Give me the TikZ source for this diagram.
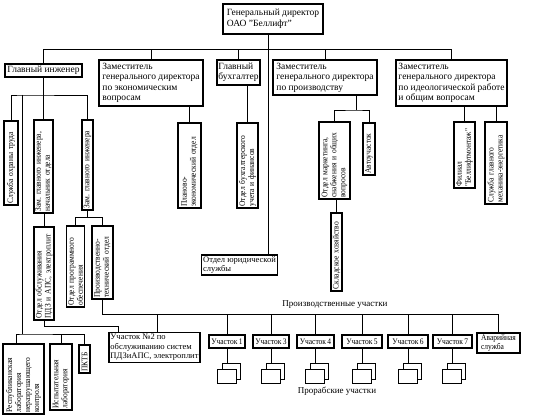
\documentclass[tikz,border=0pt]{standalone}
\usepackage{fontspec}
\setmainfont{Liberation Serif}
\newfontfamily\narrowserif[FakeStretch=0.88, WordSpace=0.7]{Liberation Serif}
\hyphenpenalty=10000
\exhyphenpenalty=10000
\frenchspacing

\begin{document}
\begin{tikzpicture}[x=1pt, y=-1pt,
		link/.style={draw, line width=0.9pt},
		hbox/.style={draw, line width=1.6pt, align=left, inner sep=1.5pt, font=\fontsize{9.5}{10.5}\selectfont},
		vbox/.style={draw, line width=1.4pt, rotate=90, align=left, inner sep=1.5pt, font=\narrowserif\fontsize{8.5}{9}\selectfont},
		ubox/.style={draw, line width=1.4pt, inner sep=1pt, minimum height=13pt, font=\narrowserif\fontsize{8.5}{9}\selectfont},
		pbox/.style={draw, line width=0.8pt, fill=white, inner sep=0pt},
		caption/.style={font=\fontsize{9}{10}\selectfont}
		]
		\useasboundingbox (0,0) rectangle (536,419);
		
		% ==========================================
		% TOP LEVEL
		% ==========================================
		
		\node[hbox, line width=2.4pt, minimum width=100pt, minimum height=30pt] (gen) at (273,19) {Генеральный директор\\ОАО "Беллифт"};
		
		\node[hbox, minimum width=77pt, minimum height=13pt] (gi) at (43.5,70.5) {Главный инженер};
		\node[hbox, minimum width=104pt, minimum height=46pt] (zecon) at (151,83) {Заместитель\\генерального директора\\по экономическим\\вопросам};
		\node[hbox, minimum width=43pt, minimum height=25pt] (buh) at (238.5,72.5) {Главный\\бухгалтер};
		\node[hbox, minimum width=104pt, minimum height=35pt] (zprod) at (325,77.5) {Заместитель\\генерального директора\\по производству};
		\node[hbox, minimum width=111pt, minimum height=46pt] (zideo) at (451.5,83) {Заместитель\\генерального директора\\по идеологической работе\\и общим вопросам};
		
		\node[hbox, line width=1.3pt, minimum width=75pt, minimum height=20pt, font=\fontsize{8.5}{9.5}\selectfont] (jur) at (239.5,265) {Отдел юридической\\службы};
		
		% Bus under the director
		\coordinate (topbus) at (0,49);
		\draw[link] ([xshift=-5pt]gen.south) -- ([xshift=-5pt]gen.south |- jur.north);
		\draw[link] (gi.north) |- (topbus -| zideo.north) -- (zideo.north);
		\draw[link] (zecon.north) -- (zecon.north |- topbus);
		\draw[link] (buh.north) -- (buh.north |- topbus);
		\draw[link] (zprod.north) -- (zprod.north |- topbus);
		
		% ==========================================
		% CHIEF ENGINEER
		% ==========================================
		
		\node[vbox, text width=81pt, minimum height=14pt] (ot) at (11,163) {Служба охраны труда};
		\node[vbox, text width=90pt, minimum height=19pt] (zgin) at (43.5,166.5) {Зам. главного инженера,\\начальник отдела};
		\node[vbox, text width=87pt, minimum height=11pt] (zgi) at (87.5,165) {Зам. главного инженера};
		\node[vbox, text width=90pt, minimum height=20pt] (oob) at (44,273.5) {Отдел обслуживания\\ПДЗ и АПС, электроплит};
		\node[vbox, text width=78pt, minimum height=17pt] (opo) at (75.5,266.5) {Отдел программного\\обеспечения};
		\node[vbox, text width=70pt, minimum height=21pt] (pto) at (102.5,262.5) {Производственно-\\технический отдел};
		
		\node[vbox, text width=67pt, minimum height=41pt] (rep) at (23.5,379) {Республиканская\\лаборатория\\неразрушающего\\контроля};
		\node[vbox, text width=63pt, minimum height=22pt] (isp) at (61,377) {Испытательная\\лаборатория};
		\node[vbox, text width=25pt, minimum height=11pt] (pktb) at (84.5,359) {ПКТБ};
		
		\coordinate (gibus) at (22,95);
		\draw[link] (gi.south) -- (gi.south |- gibus);
		\draw[link] (ot.east) |- (gibus) -| (zgi.east);
		\draw[link] (zgin.east) -- (zgin.east |- gibus);
		\draw[link] (oob.east) -- (oob.east |- zgin.west);
		
		% Laboratories
		\coordinate (labbus) at (22,334);
		\draw[link] (gibus) -- (labbus);
		\draw[link] ([xshift=-7pt]rep.east) |- (labbus) -| (pktb.east);
		\draw[link] (isp.east) -- (isp.east |- labbus);
		
		\draw[link] (zgi.west) -- ++(0,7) coordinate (zgib);
		\draw[link] (opo.east) |- (zgib) -| (pto.east);
		
		% ==========================================
		% OTHER DEPUTIES
		% ==========================================
		
		\node[vbox, text width=82pt, minimum height=23pt] (pe) at (189.5,165.5) {Планово-\\экономический отдел};
		\node[vbox, text width=82pt, minimum height=21pt] (obu) at (247.5,165.5) {Отдел бухгалтерского\\учета и финансов};
		\node[vbox, text width=74pt, minimum height=31pt] (om) at (334.5,160.5) {Отдел маркетинга,\\снабжения и общих\\вопросов};
		\node[vbox, text width=49pt, minimum height=12pt] (avt) at (369,149) {Автоучасток};
		\node[vbox, text width=75pt, minimum height=11pt] (skl) at (336.5,252) {Складское хозяйство};
		\node[vbox, text width=63pt, minimum height=21pt] (fil) at (464.5,155) {Филиал\\"Беллифтмонтаж"};
		\node[vbox, text width=79pt, minimum height=22pt] (sgm) at (496,163) {Служба главного\\механика-энергетика};
		
		\draw[link] (pe.east) -- (pe.east |- zecon.south);
		\draw[link] (obu.east) -- (obu.east |- buh.south);
		\coordinate (prodb) at (356,110);
		\draw[link] (prodb) -- (prodb |- zprod.south);
		\draw[link] (om.east) |- (prodb) -| (avt.east);
		\draw[link] (skl.east) -- (skl.east |- om.west);
		\draw[link] (fil.east) -- (fil.east |- zideo.south);
		\draw[link] (sgm.east) -- (sgm.east |- zideo.south);
		
		% ==========================================
		% PRODUCTION SITES
		% ==========================================
		
		\node[caption] (prodlbl) at (335,305) {Производственные участки};
		
		\node[hbox, line width=1.3pt, minimum width=89pt, minimum height=29pt, font=\fontsize{8.5}{9.5}\selectfont] (u2) at (154.5,347.5) {Участок №2 по\\обслуживанию систем\\ПДЗиАПС, электроплит};
		\node[ubox, minimum width=36pt] (u1) at (227,341.5) {Участок 1};
		\node[ubox, minimum width=36pt] (u3) at (271,341.5) {Участок 3};
		\node[ubox, minimum width=37pt] (u4) at (315.5,341.5) {Участок 4};
		\node[ubox, minimum width=40pt] (u5) at (362,341.5) {Участок 5};
		\node[ubox, minimum width=40pt] (u6) at (408,341.5) {Участок 6};
		\node[ubox, minimum width=39pt] (u7) at (452.5,341.5) {Участок 7};
		\node[ubox, minimum width=43pt, minimum height=20pt, align=left] (av) at (498.5,343) {Аварийная\\служба};
		
		\draw[link] (oob.west) -- ++(0,6) -| ([xshift=10pt]u2.north west);
		
		\coordinate (pbus) at (0,314);
		\draw[link] (pto.west) |- (pbus -| av.north) -- (av.north);
		\draw[link] ([xshift=2.5pt]u2.north) -- ([xshift=2.5pt]u2.north |- pbus);
		\draw[link] (u1.north) -- (u1.north |- pbus);
		\draw[link] (u3.north) -- (u3.north |- pbus);
		\draw[link] (u4.north) -- (u4.north |- pbus);
		\draw[link] (u5.north) -- (u5.north |- pbus);
		\draw[link] (u6.north) -- (u6.north |- pbus);
		\draw[link] (u7.north) -- (u7.north |- pbus);
		
		% Foreman sites (stacked boxes)
		\node[pbox, minimum width=18pt, minimum height=16pt] (p1b) at (231,371) {};
		\node[pbox, minimum width=19pt, minimum height=14pt] (p1a) at (226.5,376) {};
		\node[pbox, minimum width=18pt, minimum height=16pt] (p3b) at (275,371) {};
		\node[pbox, minimum width=19pt, minimum height=14pt] (p3a) at (270.5,376) {};
		\node[pbox, minimum width=18pt, minimum height=16pt] (p4b) at (319.5,371) {};
		\node[pbox, minimum width=19pt, minimum height=14pt] (p4a) at (315,376) {};
		\node[pbox, minimum width=18pt, minimum height=16pt] (p5b) at (366,371) {};
		\node[pbox, minimum width=19pt, minimum height=14pt] (p5a) at (361.5,376) {};
		\node[pbox, minimum width=18pt, minimum height=16pt] (p6b) at (412,371) {};
		\node[pbox, minimum width=19pt, minimum height=14pt] (p6a) at (407.5,376) {};
		\node[pbox, minimum width=18pt, minimum height=16pt] (p7b) at (456.5,371) {};
		\node[pbox, minimum width=19pt, minimum height=14pt] (p7a) at (452,376) {};
		
		\draw[link] (u1.south) -- (u1.south |- p1b.north);
		\draw[link] (u3.south) -- (u3.south |- p3b.north);
		\draw[link] (u4.south) -- (u4.south |- p4b.north);
		\draw[link] (u5.south) -- (u5.south |- p5b.north);
		\draw[link] (u6.south) -- (u6.south |- p6b.north);
		\draw[link] (u7.south) -- (u7.south |- p7b.north);
		
		\node[caption] (prorlbl) at (337,391) {Прорабские участки};
		
	\end{tikzpicture}
\end{document}
